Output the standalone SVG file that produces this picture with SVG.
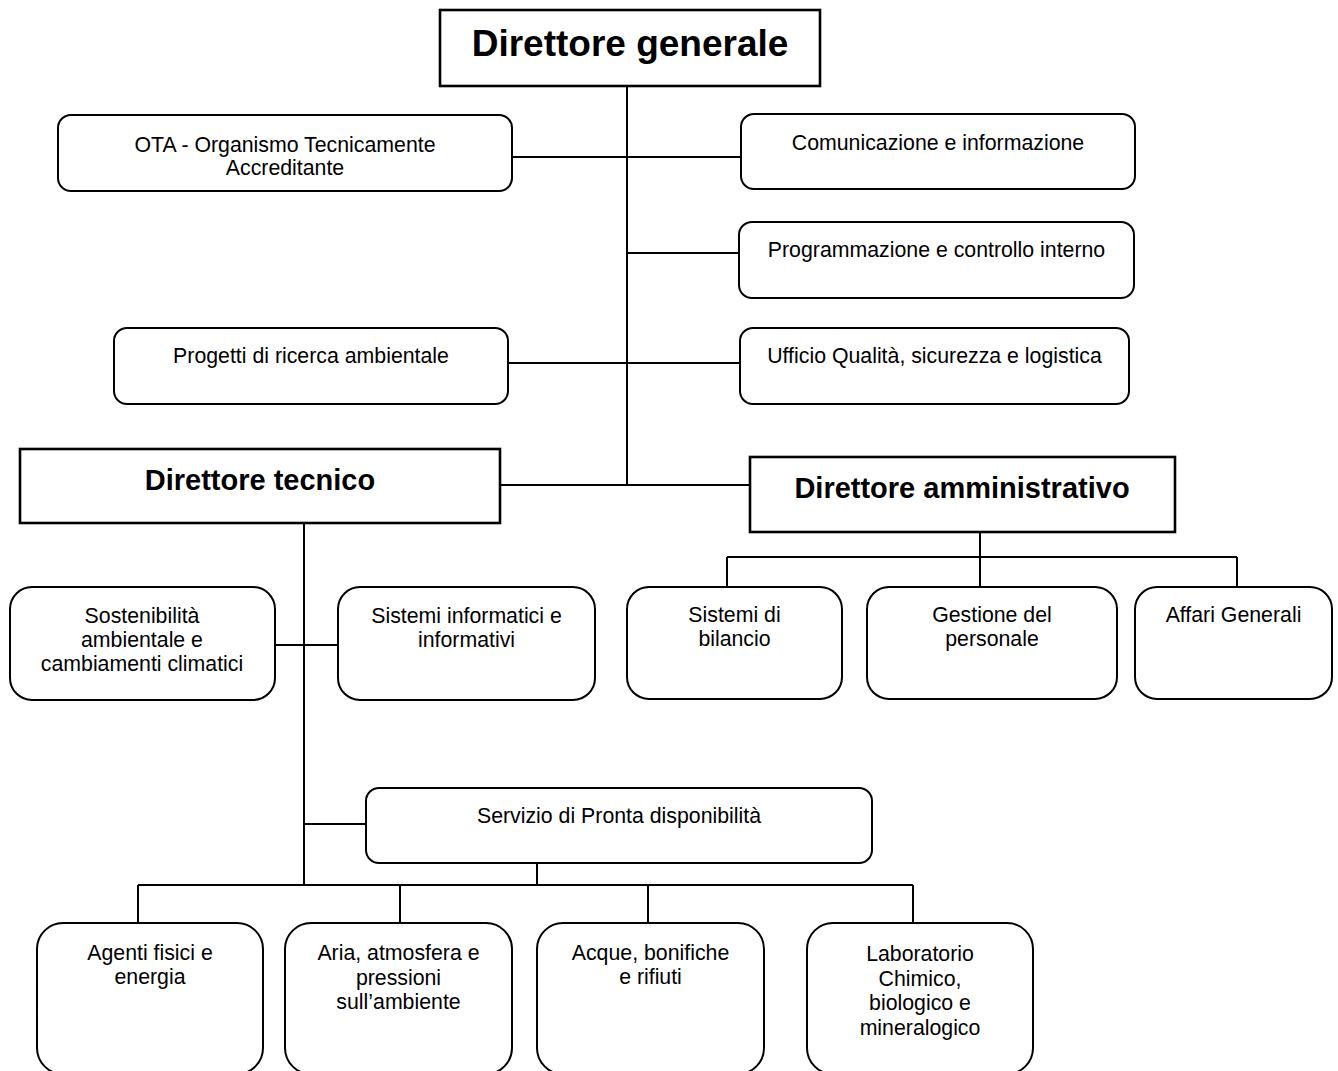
<svg xmlns="http://www.w3.org/2000/svg" width="1338" height="1071" viewBox="0 0 1338 1071">
<style>
  .box { fill: #fff; stroke: #000; stroke-width: 2; }
  .dir { fill: #fff; stroke: #000; stroke-width: 2.6; }
  .t { font-family: "Liberation Sans", Arial, sans-serif; font-size: 21.3px; fill: #000; text-anchor: middle; }
  .b { font-family: "Liberation Sans", Arial, sans-serif; font-weight: bold; fill: #000; text-anchor: middle; }
  .c { fill: none; stroke: #000; stroke-width: 2; }
</style>
<rect x="0" y="0" width="1338" height="1071" fill="#fff"/>
<g id="connectors">
  <path class="c" d="M627 86 V485"/>
  <path class="c" d="M512 157 H741"/>
  <path class="c" d="M627 253 H739"/>
  <path class="c" d="M508 363 H740"/>
  <path class="c" d="M500 485 H750"/>
  <path class="c" d="M980 532 V587"/>
  <path class="c" d="M727 557 H1237"/>
  <path class="c" d="M727 557 V587"/>
  <path class="c" d="M1237 557 V587"/>
  <path class="c" d="M304 523 V885"/>
  <path class="c" d="M275 645 H338"/>
  <path class="c" d="M304 824 H366"/>
  <path class="c" d="M537 863 V885"/>
  <path class="c" d="M138 885 H913"/>
  <path class="c" d="M138 885 V923"/>
  <path class="c" d="M400 885 V923"/>
  <path class="c" d="M648 885 V923"/>
  <path class="c" d="M913 885 V923"/>
</g>
<g id="direttore-generale">
  <rect class="dir" x="440" y="10" width="380" height="76"/>
  <text class="b" x="630" y="56" font-size="37">Direttore generale</text>
</g>
<g id="ota">
  <rect class="box" x="58" y="115" width="454" height="76" rx="13"/>
  <text class="t" x="285" y="152">OTA - Organismo Tecnicamente</text>
  <text class="t" x="285" y="175">Accreditante</text>
</g>
<g id="comunicazione">
  <rect class="box" x="741" y="114" width="394" height="75" rx="13"/>
  <text class="t" x="938" y="150">Comunicazione e informazione</text>
</g>
<g id="programmazione">
  <rect class="box" x="739" y="222" width="395" height="76" rx="13"/>
  <text class="t" x="936.5" y="257">Programmazione e controllo interno</text>
</g>
<g id="progetti">
  <rect class="box" x="114" y="328" width="394" height="76" rx="13"/>
  <text class="t" x="311" y="363">Progetti di ricerca ambientale</text>
</g>
<g id="ufficio-qualita">
  <rect class="box" x="740" y="328" width="389" height="76" rx="13"/>
  <text class="t" x="934.5" y="363">Ufficio Qualità, sicurezza e logistica</text>
</g>
<g id="direttore-tecnico">
  <rect class="dir" x="20" y="449" width="480" height="74"/>
  <text class="b" x="260" y="490" font-size="29">Direttore tecnico</text>
</g>
<g id="direttore-amministrativo">
  <rect class="dir" x="750" y="457" width="425" height="75"/>
  <text class="b" x="962" y="498" font-size="29">Direttore amministrativo</text>
</g>
<g id="sostenibilita">
  <rect class="box" x="10" y="587" width="265" height="113" rx="22"/>
  <text class="t" x="142" y="623">Sostenibilità</text>
  <text class="t" x="142" y="647">ambientale e</text>
  <text class="t" x="142" y="671">cambiamenti climatici</text>
</g>
<g id="sistemi-informatici">
  <rect class="box" x="338" y="587" width="257" height="113" rx="22"/>
  <text class="t" x="466.5" y="623">Sistemi informatici e</text>
  <text class="t" x="466.5" y="647">informativi</text>
</g>
<g id="sistemi-bilancio">
  <rect class="box" x="627" y="587" width="215" height="112" rx="22"/>
  <text class="t" x="734.5" y="622">Sistemi di</text>
  <text class="t" x="734.5" y="646">bilancio</text>
</g>
<g id="gestione-personale">
  <rect class="box" x="867" y="587" width="250" height="112" rx="22"/>
  <text class="t" x="992" y="622">Gestione del</text>
  <text class="t" x="992" y="646">personale</text>
</g>
<g id="affari-generali">
  <rect class="box" x="1135" y="587" width="197" height="112" rx="22"/>
  <text class="t" x="1233.5" y="622">Affari Generali</text>
</g>
<g id="servizio-pronta">
  <rect class="box" x="366" y="788" width="506" height="75" rx="13"/>
  <text class="t" x="619" y="823">Servizio di Pronta disponibilità</text>
</g>
<g id="agenti-fisici">
  <rect class="box" x="37" y="923" width="226" height="151" rx="26"/>
  <text class="t" x="150" y="960">Agenti fisici e</text>
  <text class="t" x="150" y="984">energia</text>
</g>
<g id="aria">
  <rect class="box" x="285" y="923" width="227" height="151" rx="26"/>
  <text class="t" x="398.5" y="960">Aria, atmosfera e</text>
  <text class="t" x="398.5" y="984.5">pressioni</text>
  <text class="t" x="398.5" y="1009">sull’ambiente</text>
</g>
<g id="acque">
  <rect class="box" x="537" y="923" width="227" height="151" rx="26"/>
  <text class="t" x="650.5" y="960">Acque, bonifiche</text>
  <text class="t" x="650.5" y="984">e rifiuti</text>
</g>
<g id="laboratorio">
  <rect class="box" x="807" y="923" width="226" height="151" rx="26"/>
  <text class="t" x="920" y="961">Laboratorio</text>
  <text class="t" x="920" y="985.5">Chimico,</text>
  <text class="t" x="920" y="1010">biologico e</text>
  <text class="t" x="920" y="1034.5">mineralogico</text>
</g>
</svg>
